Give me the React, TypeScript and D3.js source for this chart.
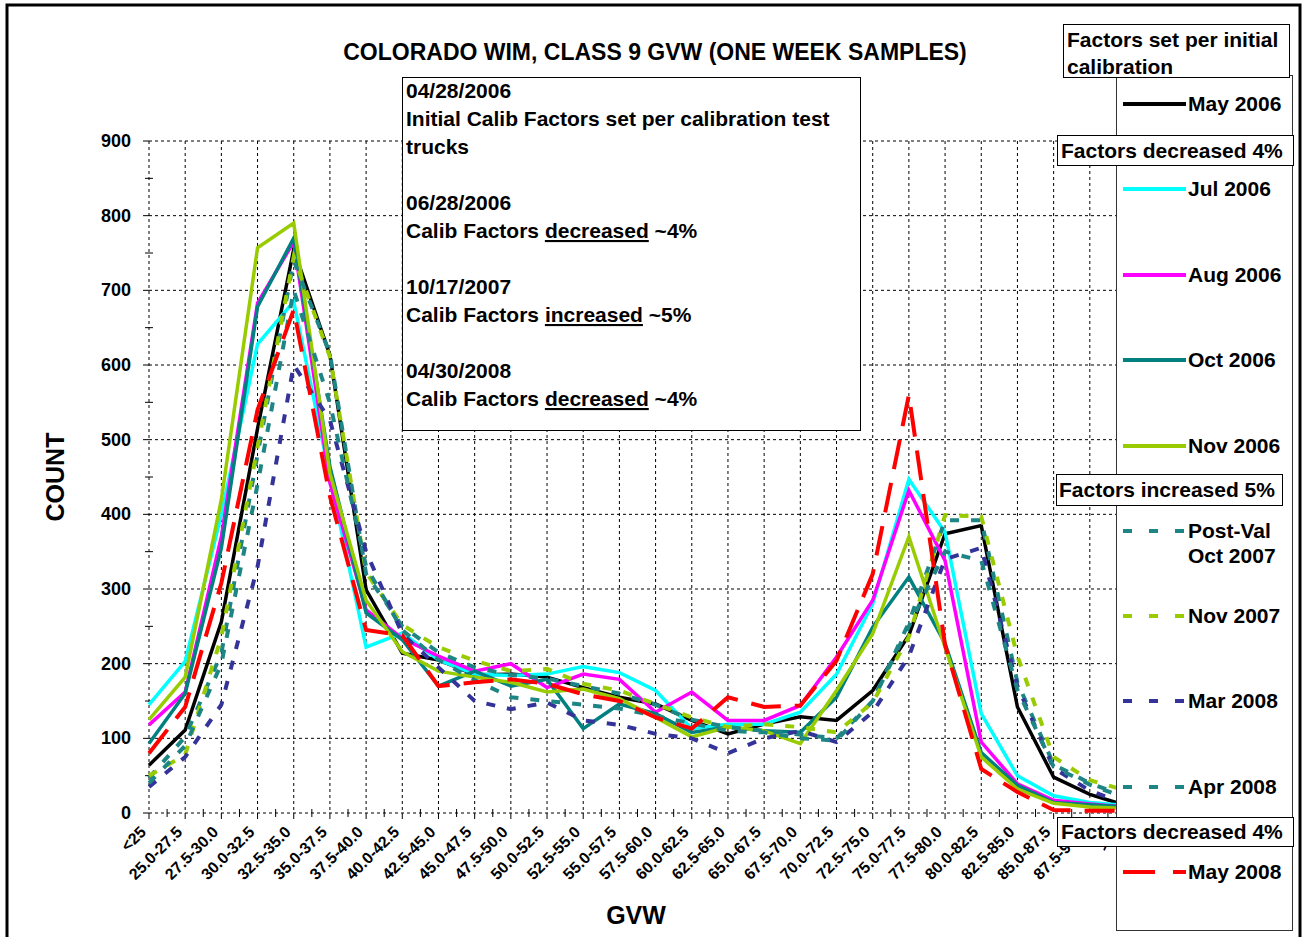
import React from 'react';
import * as d3 from 'd3';

const categories = [
  '<25', '25.0-27.5', '27.5-30.0', '30.0-32.5', '32.5-35.0', '35.0-37.5', '37.5-40.0',
  '40.0-42.5', '42.5-45.0', '45.0-47.5', '47.5-50.0', '50.0-52.5', '52.5-55.0', '55.0-57.5',
  '57.5-60.0', '60.0-62.5', '62.5-65.0', '65.0-67.5', '67.5-70.0', '70.0-72.5', '72.5-75.0',
  '75.0-77.5', '77.5-80.0', '80.0-82.5', '82.5-85.0', '85.0-87.5', '87.5-90.0', '>90',
];

const may2006 = [64, 111, 256, 515, 755, 613, 299, 214, 205, 185, 186, 182, 168, 155, 146, 124, 106, 119, 129, 124, 164, 238, 374, 385, 142, 48, 25, 10];
const jul2006 = [145, 203, 400, 628, 685, 450, 222, 241, 205, 186, 184, 186, 196, 188, 164, 113, 119, 119, 135, 186, 280, 447, 376, 133, 50, 23, 14, 10];
const aug2006 = [118, 162, 370, 683, 765, 442, 272, 234, 210, 190, 200, 168, 186, 179, 135, 162, 124, 124, 144, 209, 285, 432, 338, 95, 39, 17, 12, 8];
const oct2006 = [93, 160, 355, 678, 770, 464, 268, 232, 170, 190, 170, 179, 113, 146, 133, 108, 115, 110, 108, 155, 249, 316, 227, 81, 37, 14, 11, 8];
const nov2006 = [125, 182, 420, 757, 790, 455, 285, 216, 190, 182, 175, 162, 166, 153, 128, 102, 115, 110, 93, 164, 240, 370, 222, 75, 32, 13, 8, 6];
const postValOct2007 = [47, 102, 214, 480, 740, 615, 320, 250, 215, 195, 185, 180, 170, 160, 145, 125, 115, 110, 105, 100, 150, 255, 392, 392, 175, 65, 40, 22];
const nov2007 = [50, 78, 236, 490, 745, 611, 322, 252, 222, 204, 190, 193, 173, 164, 146, 128, 115, 119, 115, 108, 148, 236, 399, 397, 210, 75, 44, 30];
const mar2008 = [35, 75, 145, 330, 600, 526, 350, 240, 195, 150, 139, 148, 124, 118, 106, 100, 80, 100, 110, 95, 135, 210, 340, 355, 170, 60, 30, 12];
const apr2008 = [40, 90, 200, 440, 700, 549, 330, 245, 205, 178, 155, 150, 145, 140, 130, 120, 110, 108, 100, 97, 150, 250, 350, 338, 165, 62, 38, 20];
const may2008 = [80, 142, 308, 540, 674, 424, 245, 238, 170, 175, 179, 173, 159, 150, 128, 113, 155, 142, 144, 204, 320, 560, 225, 59, 28, 4, 3, 3];

const yTicks = [0, 100, 200, 300, 400, 500, 600, 700, 800, 900];

const title = 'COLORADO WIM, CLASS 9 GVW (ONE WEEK SAMPLES)';

const FONT = "'Liberation Sans', Arial, Helvetica, sans-serif";

type Series = { name: string; lines: string[]; values: number[]; color: string; dash: string | null; width: number };

const series: Series[] = [
  { name: 'May 2006', lines: ['May 2006'], values: may2006, color: '#000000', dash: null, width: 3.5 },
  { name: 'Jul 2006', lines: ['Jul 2006'], values: jul2006, color: '#00FFFF', dash: null, width: 3.5 },
  { name: 'Aug 2006', lines: ['Aug 2006'], values: aug2006, color: '#FF00FF', dash: null, width: 3.5 },
  { name: 'Oct 2006', lines: ['Oct 2006'], values: oct2006, color: '#008080', dash: null, width: 3.5 },
  { name: 'Nov 2006', lines: ['Nov 2006'], values: nov2006, color: '#99CC00', dash: null, width: 3.5 },
  { name: 'Post-Val Oct 2007', lines: ['Post-Val', 'Oct 2007'], values: postValOct2007, color: '#1E8585', dash: '9,12', width: 4 },
  { name: 'Nov 2007', lines: ['Nov 2007'], values: nov2007, color: '#99CC00', dash: '9,12', width: 4 },
  { name: 'Mar 2008', lines: ['Mar 2008'], values: mar2008, color: '#333399', dash: '9,12', width: 4 },
  { name: 'Apr 2008', lines: ['Apr 2008'], values: apr2008, color: '#1E8585', dash: '9,12', width: 4 },
  { name: 'May 2008', lines: ['May 2008'], values: may2008, color: '#FF0000', dash: '30,14', width: 4 },
];

const legendDash: Record<string, string> = { '9,12': '9,17', '30,14': '32,18' };

export default function App() {
  const x = d3.scalePoint<string>().domain(categories).range([149, 1126]);
  const y = d3.scaleLinear().domain([0, 900]).range([813, 141]);
  const line = d3
    .line<number>()
    .x((_, i) => x(categories[i]) as number)
    .y((d) => y(d));

  const step = x.step();
  const minorY = d3.range(50, 900, 100);
  const xRight = 1130;

  const legendY = [104, 189, 275, 360, 446, 531, 616, 701, 787, 872];

  return (
    <svg
      width={1304}
      height={937}
      style={{ position: 'absolute', left: 0, top: 0, background: '#fff' }}
      fontFamily={FONT}
    >
      <rect x={0} y={0} width={1304} height={937} fill="#fff" />
      {/* outer frame */}
      <rect x={7} y={5} width={1293} height={945} fill="none" stroke="#000" strokeWidth={3} />

      {/* title */}
      <text x={655} y={60} textAnchor="middle" fontSize={23} fontWeight="bold">
        {title}
      </text>

      {/* gridlines */}
      <g stroke="#000" strokeWidth={1} strokeDasharray="3,3" fill="none">
        {yTicks.map((t) => (
          <line key={'h' + t} x1={149} x2={xRight} y1={y(t)} y2={y(t)} />
        ))}
        {categories.map((c) => (
          <line key={'v' + c} x1={x(c)} x2={x(c)} y1={y(900)} y2={y(0)} />
        ))}
      </g>
      {/* axis ticks */}
      <g stroke="#000" strokeWidth={1}>
        {yTicks.map((t) => (
          <line key={'yt' + t} x1={143} x2={149} y1={y(t)} y2={y(t)} />
        ))}
        {minorY.map((t) => (
          <line key={'ym' + t} x1={145} x2={153} y1={y(t)} y2={y(t)} />
        ))}
        {categories.map((c) => (
          <line key={'xt' + c} x1={x(c)} x2={x(c)} y1={813} y2={819} />
        ))}
        {categories.slice(0, -1).map((c) => (
          <line key={'xm' + c} x1={(x(c) as number) + step / 2} x2={(x(c) as number) + step / 2} y1={809} y2={817} />
        ))}
      </g>

      {/* y tick labels */}
      <g fontSize={18} fontWeight="bold" textAnchor="end">
        {yTicks.map((t) => (
          <text key={'yl' + t} x={131} y={y(t) + 6}>
            {t}
          </text>
        ))}
      </g>
      {/* x tick labels */}
      <g fontSize={16} fontWeight="bold" textAnchor="end">
        {categories.map((c) => (
          <text key={'xl' + c} transform={`translate(${(x(c) as number) - 2},${833}) rotate(-45)`}>
            {c}
          </text>
        ))}
      </g>

      {/* axis titles */}
      <text transform="translate(64,477) rotate(-90)" textAnchor="middle" fontSize={25} fontWeight="bold">
        COUNT
      </text>
      <text x={636} y={924} textAnchor="middle" fontSize={25} fontWeight="bold">
        GVW
      </text>

      {/* series */}
      <g fill="none" strokeLinejoin="miter">
        {series.map((s) => (
          <path
            key={s.name}
            d={line(s.values) as string}
            stroke={s.color}
            strokeWidth={s.width}
            strokeDasharray={s.dash ?? undefined}
          />
        ))}
      </g>

      {/* annotation box */}
      <rect x={402.5} y={77.5} width={458} height={353} fill="#fff" stroke="#000" strokeWidth={1} />
      <g fontSize={21} fontWeight="bold">
        <text x={406} y={98}>04/28/2006</text>
        <text x={406} y={126}>Initial Calib Factors set per calibration test</text>
        <text x={406} y={154}>trucks</text>
        <text x={406} y={210}>06/28/2006</text>
        <text x={406} y={238}>
          Calib Factors <tspan style={{ textDecoration: 'underline' }}>decreased</tspan> ~4%
        </text>
        <text x={406} y={294}>10/17/2007</text>
        <text x={406} y={322}>
          Calib Factors <tspan style={{ textDecoration: 'underline' }}>increased</tspan> ~5%
        </text>
        <text x={406} y={378}>04/30/2008</text>
        <text x={406} y={406}>
          Calib Factors <tspan style={{ textDecoration: 'underline' }}>decreased</tspan> ~4%
        </text>
      </g>

      {/* legend */}
      <rect x={1116.5} y={75.5} width={176} height={855} fill="#fff" stroke="#333" strokeWidth={1} />
      <g fontSize={21} fontWeight="bold">
        {series.map((s, i) => {
          const ly = legendY[i];
          return (
            <g key={'lg' + s.name}>
              <line
                x1={1123}
                x2={1186}
                y1={ly}
                y2={ly}
                stroke={s.color}
                strokeWidth={4}
                strokeDasharray={s.dash ? legendDash[s.dash] : undefined}
              />
              {s.lines.map((t, j) => (
                <text key={t} x={1188} y={ly + 7 + j * 25}>
                  {t}
                </text>
              ))}
            </g>
          );
        })}
      </g>
      <g fontSize={21} fontWeight="bold">
        <rect x={1063.5} y={24.5} width={226} height={53} fill="#fff" stroke="#000" />
        <text x={1067} y={47}>Factors set per initial</text>
        <text x={1067} y={74}>calibration</text>
        <rect x={1057.5} y={135.5} width={236} height={30} fill="#fff" stroke="#000" />
        <text x={1061} y={158}>Factors decreased 4%</text>
        <rect x={1056.5} y={474.5} width={226} height={31} fill="#fff" stroke="#000" />
        <text x={1059} y={497}>Factors increased 5%</text>
        <rect x={1057.5} y={817.5} width={236} height={29} fill="#fff" stroke="#000" />
        <text x={1061} y={839}>Factors decreased 4%</text>
      </g>
    </svg>
  );
}
